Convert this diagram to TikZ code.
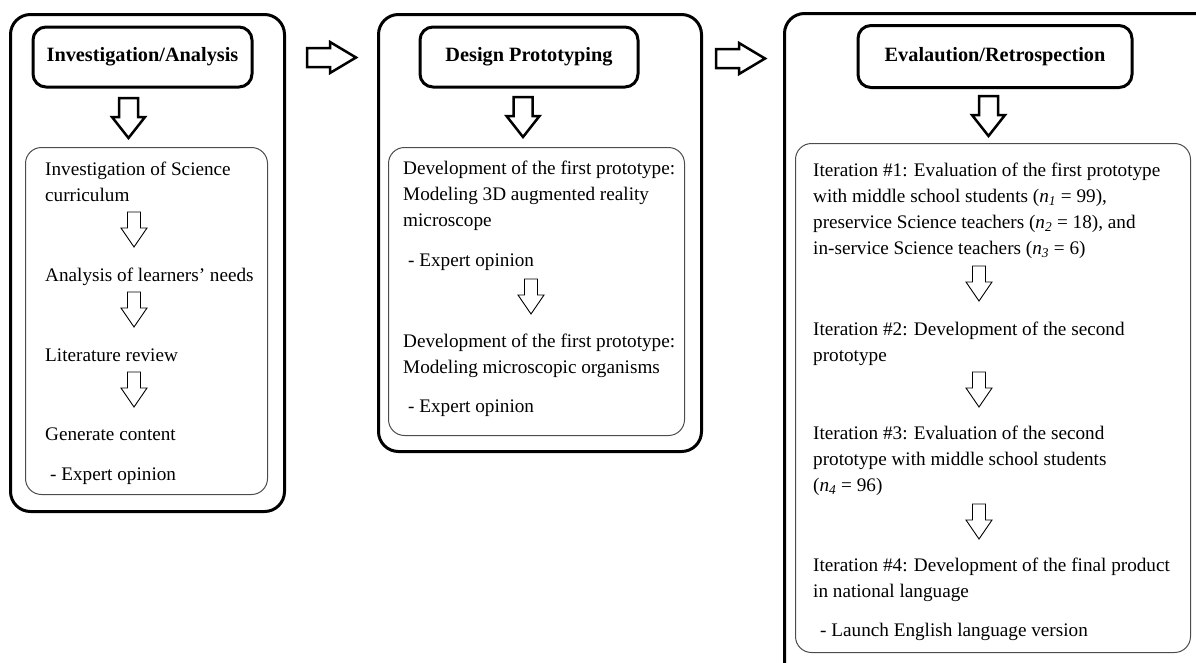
\documentclass[tikz,border=0pt]{standalone}
\usepackage{fontspec}
\setmainfont{Liberation Serif}
\begin{document}
\begin{tikzpicture}[x=1pt,y=-1pt,
  panel/.style={draw, line width=3pt, rounded corners=20pt, anchor=north west, inner sep=0pt},
  innerbox/.style={draw=black!70, line width=1pt, rounded corners=16pt, anchor=north west, inner sep=0pt},
  titlebox/.style={draw, line width=3pt, rounded corners=13pt, inner sep=0pt, font=\bfseries\fontsize{20.3}{23}\selectfont},
  txt/.style={font=\fontsize{19.2}{25.7}\selectfont, align=left, anchor=base west, inner sep=0pt},
  bigdown/.pic={\draw[line width=2.5pt, fill=white, line join=miter] (-9.5,0) -- (-9.5,19) -- (-16.5,19) -- (0,40) -- (16.5,19) -- (9.5,19) -- (9.5,0) -- cycle;},
  smalldown/.pic={\draw[line width=0.9pt, fill=white, line join=miter] (-6.5,0) -- (-6.5,16) -- (-13,16) -- (0,35) -- (13,16) -- (6.5,16) -- (6.5,0) -- cycle;},
  bigright/.pic={\draw[line width=2.5pt, fill=white, line join=miter] (0,-9.5) -- (23,-9.5) -- (23,-15.5) -- (49,0) -- (23,15.5) -- (23,9.5) -- (0,9.5) -- cycle;}
]
\useasboundingbox (0,0) rectangle (1196,662);
\clip (0,0) rectangle (1196,662);

% outer panels
\node[panel, minimum width=274pt, minimum height=497pt] (p1) at (9,13) {};
\node[panel, minimum width=323pt, minimum height=437pt] (p2) at (377,13) {};
\node[panel, minimum width=460pt, minimum height=700pt] (p3) at (783,12) {};

% titles
\node[titlebox, minimum width=219pt, minimum height=60pt] (t1) at (142.5,57) {Investigation/Analysis};
\node[titlebox, minimum width=218pt, minimum height=60pt] (t2) at (529,57) {Design Prototyping};
\node[titlebox, minimum width=274pt, minimum height=62pt] (t3) at (995,56.5) {Evalaution/Retrospection};

% arrows between panels
\pic at (307,57.5) {bigright};
\pic at (716,58.5) {bigright};

% arrows under titles
\pic at (128.5,98) {bigdown};
\pic at (523,97) {bigdown};
\pic at (988.5,96) {bigdown};

% inner boxes
\node[innerbox, minimum width=242pt, minimum height=347pt] (b1) at (25,147) {};
\node[innerbox, minimum width=296pt, minimum height=288pt] (b2) at (388,147) {};
\node[innerbox, minimum width=395pt, minimum height=509pt] (b3) at (795,143) {};

% panel 1 text (base anchor = last line baseline)
\node[txt] (a1) at (45,201) {Investigation of Science\\curriculum};
\pic at (134,212) {smalldown};
\node[txt] (a2) at (45,281) {Analysis of learners' needs};
\pic at (134,292) {smalldown};
\node[txt] (a3) at (45,361) {Literature review};
\pic at (134,372) {smalldown};
\node[txt] (a4) at (45,440) {Generate content};
\node[txt] (a5) at (50,480) {- Expert opinion};

% panel 2 text
\node[txt] (d1) at (403,226) {Development of the first prototype:\\Modeling 3D augmented reality\\microscope};
\node[txt] (d2) at (408,266) {- Expert opinion};
\pic at (531,279) {smalldown};
\node[txt] (d3) at (403,373) {Development of the first prototype:\\Modeling microscopic organisms};
\node[txt] (d4) at (408,412) {- Expert opinion};

% panel 3 text
\node[txt] (e1) at (813,254) {Iteration \#1: Evaluation of the first prototype\\with middle school students (\textit{n}\textsubscript{\textit{1}} = 99),\\preservice Science teachers (\textit{n}\textsubscript{\textit{2}} = 18), and\\in-service Science teachers (\textit{n}\textsubscript{\textit{3}} = 6)};
\pic at (979,266) {smalldown};
\node[txt] (e2) at (813,361) {Iteration \#2: Development of the second\\prototype};
\pic at (979,372) {smalldown};
\node[txt] (e3) at (813,491) {Iteration \#3: Evaluation of the second\\prototype with middle school students\\(\textit{n}\textsubscript{\textit{4}} = 96)};
\pic at (979,504) {smalldown};
\node[txt] (e4) at (813,597) {Iteration \#4: Development of the final product\\in national language};
\node[txt] (e5) at (820,636) {- Launch English language version};
\end{tikzpicture}
\end{document}
